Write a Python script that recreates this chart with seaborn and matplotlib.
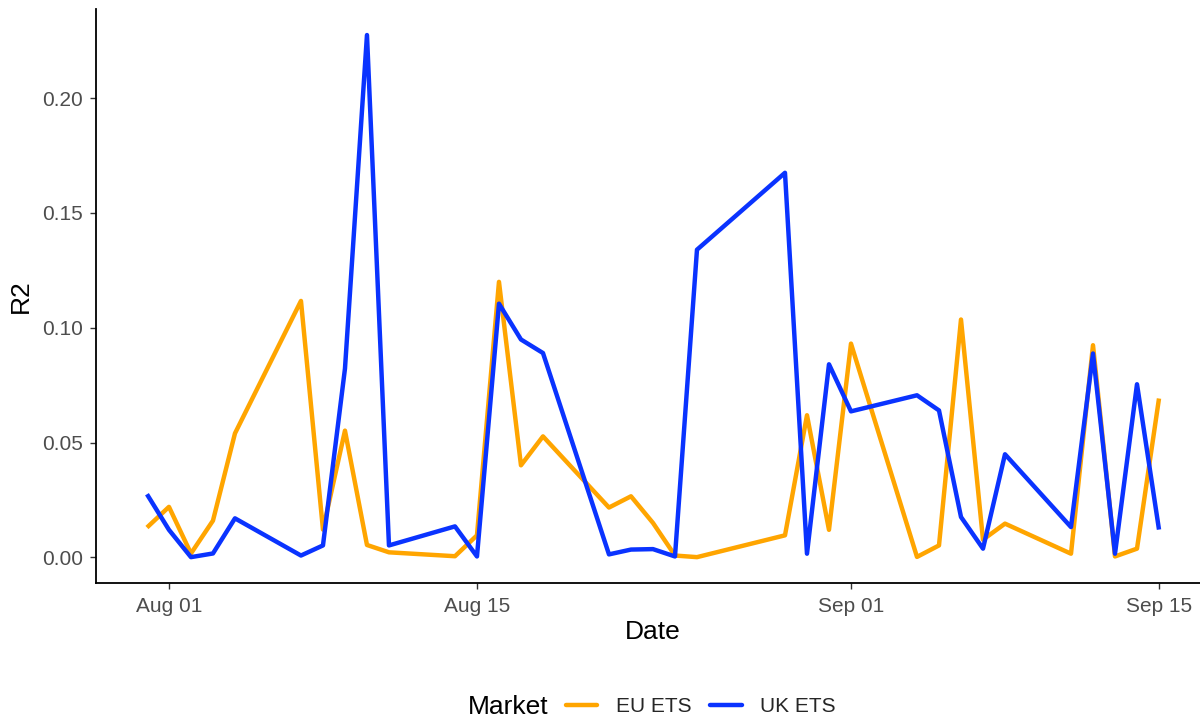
import matplotlib
matplotlib.use("Agg")
import matplotlib.pyplot as plt
import matplotlib.dates as mdates
from matplotlib.lines import Line2D
import numpy as np
import pandas as pd
import seaborn as sns

# Trading days (Aug 28 was a holiday)
dates = [
    "2023-07-31", "2023-08-01", "2023-08-02", "2023-08-03", "2023-08-04",
    "2023-08-07", "2023-08-08", "2023-08-09", "2023-08-10", "2023-08-11",
    "2023-08-14", "2023-08-15", "2023-08-16", "2023-08-17", "2023-08-18",
    "2023-08-21", "2023-08-22", "2023-08-23", "2023-08-24", "2023-08-25",
    "2023-08-29", "2023-08-30", "2023-08-31", "2023-09-01",
    "2023-09-04", "2023-09-05", "2023-09-06", "2023-09-07", "2023-09-08",
    "2023-09-11", "2023-09-12", "2023-09-13", "2023-09-14", "2023-09-15",
]

eu_r2 = [
    0.0130, 0.0220, 0.0017, 0.0160, 0.0540,
    0.1117, 0.0121, 0.0552, 0.0054, 0.0022,
    0.0005, 0.0096, 0.1200, 0.0401, 0.0527,
    0.0217, 0.0266, 0.0150, 0.0008, 0.0001,
    0.0096, 0.0619, 0.0120, 0.0931,
    0.0002, 0.0052, 0.1036, 0.0077, 0.0147,
    0.0016, 0.0924, 0.0004, 0.0038, 0.0692,
]

uk_r2 = [
    0.0275, 0.0120, 0.0001, 0.0017, 0.0170,
    0.0008, 0.0052, 0.0822, 0.2275, 0.0052,
    0.0135, 0.0004, 0.1105, 0.0949, 0.0890,
    0.0013, 0.0034, 0.0036, 0.0004, 0.1340,
    0.1675, 0.0016, 0.0841, 0.0636,
    0.0706, 0.0640, 0.0176, 0.0038, 0.0449,
    0.0132, 0.0888, 0.0016, 0.0754, 0.0121,
]

markets = ["EU ETS", "UK ETS"]
colors = {"EU ETS": "#FFA500", "UK ETS": "#0A33FF"}
x_ticks = ["2023-08-01", "2023-08-15", "2023-09-01", "2023-09-15"]
y_ticks = [0.00, 0.05, 0.10, 0.15, 0.20]

df = pd.concat([
    pd.DataFrame({"Date": pd.to_datetime(dates), "R2": eu_r2, "Market": "EU ETS"}),
    pd.DataFrame({"Date": pd.to_datetime(dates), "R2": uk_r2, "Market": "UK ETS"}),
], ignore_index=True)

sns.set_theme(style="white")
plt.rcParams["font.family"] = ["Liberation Sans", "DejaVu Sans"]

fig = plt.figure(figsize=(12, 7.2), dpi=100)
ax = fig.add_axes([0.0803, 0.1896, 0.9277, 0.798])

line_w = 3.2
sns.lineplot(data=df, x="Date", y="R2", hue="Market", hue_order=markets,
             palette=colors, linewidth=line_w, errorbar=None, legend=False,
             ax=ax, solid_joinstyle="round", solid_capstyle="butt")

# ggplot-like 5% expansion on both axes
d = mdates.date2num(pd.to_datetime(dates))
span = d.max() - d.min()
ax.set_xlim(d.min() - 0.05 * span, d.max() + 0.05 * span)
ymax = max(max(eu_r2), max(uk_r2))
ax.set_ylim(-0.05 * ymax, ymax * 1.05)

ax.set_xticks(mdates.date2num(pd.to_datetime(x_ticks)))
ax.xaxis.set_major_formatter(mdates.DateFormatter("%b %d"))
ax.set_yticks(y_ticks)
ax.set_yticklabels([f"{v:.2f}" for v in y_ticks])

for s in ["top", "right"]:
    ax.spines[s].set_visible(False)
for s in ["left", "bottom"]:
    ax.spines[s].set_color("black")
    ax.spines[s].set_linewidth(1.3)

ax.tick_params(axis="both", which="major", direction="out", length=4.5,
               width=1.0, color="#333333", labelcolor="#4D4D4D",
               labelsize=15, pad=5, bottom=True, left=True)

ax.set_xlabel("Date", fontsize=19, color="black")
ax.set_ylabel("R2", fontsize=19, color="black")
ax.xaxis.set_label_coords(0.5, -0.064)
ax.yaxis.set_label_coords(-0.057, 0.5)

# Legend at the bottom with an inline title
fig.text(468 / 1200, 1 - 707 / 720, "Market", fontsize=19, color="black",
         ha="left", va="center")
handles = [Line2D([0], [0], color=colors[m], linewidth=line_w) for m in markets]
fig.legend(handles, markets, loc="center left",
           bbox_to_anchor=(566 / 1200, 1 - 707 / 720), ncol=2, frameon=False,
           fontsize=15, handlelength=1.5, handletextpad=0.9,
           columnspacing=0.9, borderaxespad=0, borderpad=0)

fig.savefig("out.png", dpi=100)
